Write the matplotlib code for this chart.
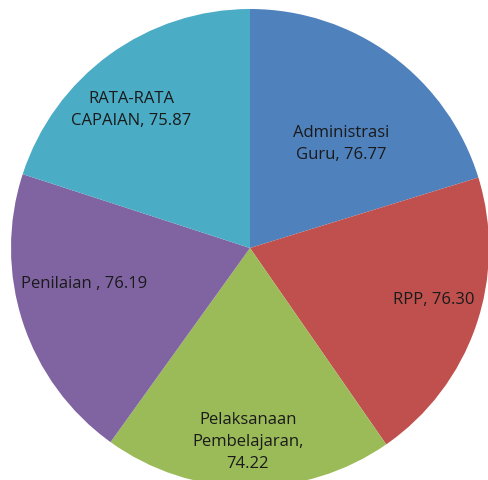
import matplotlib.pyplot as plt
import numpy as np

# data
categories = ['Administrasi\nGuru', 'RPP', 'Pelaksanaan\nPembelajaran,', 'Penilaian ', 'RATA-RATA\nCAPAIAN']
values = [76.77, 76.30, 74.22, 76.19, 75.87]
value_text = ['76.77', '76.30', '74.22', '76.19', '75.87']
colors = ['#4F81BD', '#C0504D', '#9BBB59', '#8064A2', '#4BACC6']

# label placement (fraction of radius, angle in degrees)
label_r = [0.58, 0.80, 0.81, 0.71, 0.76]
label_ang = [48.8, -15.9, -90.7, 192.3, 130.7]

plt.rcParams['font.family'] = ['Open Sans', 'DejaVu Sans']

W, H = 489, 480
cx, cy, R = 250, 248, 239

fig = plt.figure(figsize=(W / 100, H / 100), dpi=100)
ax = fig.add_axes([0, 0, 1, 1])
ax.pie(values, colors=colors, startangle=90, counterclock=False,
       radius=1, center=(0, 0), wedgeprops={'linewidth': 0})
ax.set_xlim(-cx / R, (W - cx) / R)
ax.set_ylim((cy - H) / R, cy / R)
ax.set_aspect('equal')
ax.axis('off')

for cat, val, r, a in zip(categories, value_text, label_r, label_ang):
    if cat.endswith(','):
        txt = cat + '\n' + val
    else:
        txt = cat + ', ' + val
    ax.text(r * np.cos(np.radians(a)), r * np.sin(np.radians(a)), txt,
            ha='center', va='center', multialignment='center',
            fontsize=12, color='#1a1a1a', linespacing=1.5)

fig.savefig('out.png', dpi=100)
